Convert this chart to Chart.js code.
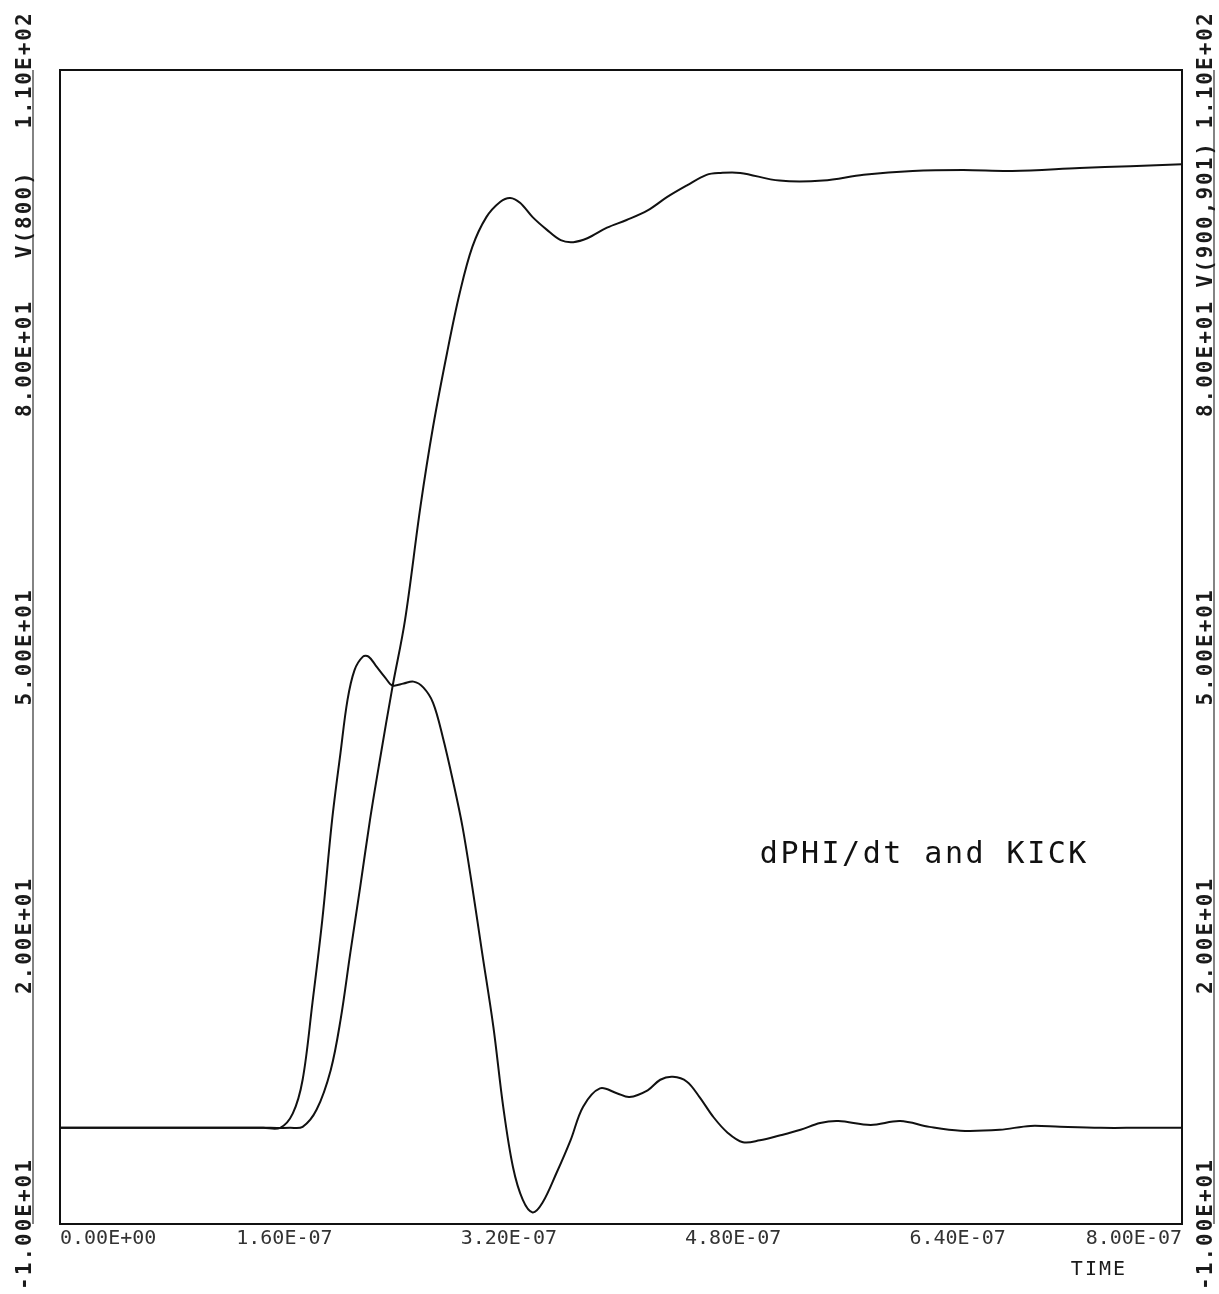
<!DOCTYPE html>
<html>
<head>
<meta charset="utf-8">
<script src="https://cdn.jsdelivr.net/npm/chart.js@4/dist/chart.umd.min.js"></script>
<style>
  html, body { margin: 0; padding: 0; background: #fff; }
  #wrap { width: 1219px; height: 1294px; position: relative; }
</style>
</head>
<body>
<div id="wrap"><canvas id="plot"></canvas></div>
<script>
// time in ns, values in plot units
const kickTime = [0, 60, 120, 150, 164, 173, 183, 193, 200, 207, 214, 221, 228, 237, 246, 257, 266, 276, 285, 294, 304, 314, 321, 328, 337, 347, 357, 366, 376, 390, 404, 419, 433, 447, 461, 471, 485, 513, 544, 573, 608, 644, 679, 727, 763, 800];
const kickValue = [0, 0, 0, 0, 0, 0.1, 1.9, 6.0, 11.2, 18.2, 25.0, 32.0, 38.2, 45.8, 52.8, 64.6, 72.9, 80.6, 86.8, 91.6, 94.7, 96.3, 96.7, 96.2, 94.7, 93.4, 92.3, 92.1, 92.5, 93.6, 94.4, 95.4, 96.8, 98.0, 99.1, 99.3, 99.3, 98.5, 98.5, 99.1, 99.5, 99.6, 99.5, 99.8, 100.0, 100.2];

const dphiTime = [0, 60, 120, 145, 157, 166, 173, 180, 187, 194, 200, 205, 210, 216, 220, 225, 232, 237, 245, 252, 259, 266, 273, 280, 287, 294, 301, 309, 316, 323, 330, 337, 344, 354, 364, 373, 385, 397, 406, 419, 428, 437, 447, 456, 466, 476, 487, 499, 513, 528, 542, 555, 578, 599, 620, 642, 670, 692, 713, 742, 770, 800];
const dphiValue = [0, 0, 0, 0, 0, 1.5, 5.0, 13.0, 21.6, 32.0, 39.0, 44.5, 47.6, 49.0, 49.0, 48.1, 46.8, 46.0, 46.2, 46.4, 45.8, 44.2, 40.6, 36.2, 31.3, 25.0, 18.2, 10.5, 2.2, -4.1, -7.5, -8.8, -7.8, -4.7, -1.3, 2.2, 4.1, 3.6, 3.2, 3.9, 5.0, 5.3, 4.8, 3.2, 1.1, -0.5, -1.5, -1.3, -0.8, -0.2, 0.5, 0.7, 0.3, 0.7, 0.1, -0.3, -0.2, 0.2, 0.1, 0, 0, 0];

const xTickLabels = ['0.00E+00', '1.60E-07', '3.20E-07', '4.80E-07', '6.40E-07', '8.00E-07'];
const yTickValues = [-10, 20, 50, 80, 110];
const yTickLabels = ['-1.00E+01', '2.00E+01', '5.00E+01', '8.00E+01', '1.10E+02'];
const leftTitle = 'V(800)';
const rightTitle = 'V(900,901)';
const xTitle = 'TIME';
const note = 'dPHI/dt and KICK';

const MONO = '"DejaVu Sans Mono", "Liberation Mono", monospace';

function toPoints(ts, vs) {
	return ts.map((t, i) => ({ x: t, y: vs[i] }));
}

const plotterDecor = {
	id: 'plotterDecor',
	afterDraw(chart) {
		const { ctx, chartArea: a } = chart;
		const x = chart.scales.x;
		const y = chart.scales.y;
		ctx.save();

		// frame round the plot
		ctx.strokeStyle = '#111';
		ctx.lineWidth = 2;
		ctx.strokeRect(a.left, a.top, a.right - a.left, a.bottom - a.top);

		// rules beside the rotated labels
		ctx.lineWidth = 1.2;
		ctx.strokeStyle = '#333';
		ctx.beginPath();
		ctx.moveTo(33, a.top);
		ctx.lineTo(33, a.bottom);
		ctx.moveTo(1214, a.top);
		ctx.lineTo(1214, a.bottom);
		ctx.stroke();

		// y labels, both sides, reading bottom to top
		ctx.font = 'bold 21px ' + MONO;
		ctx.letterSpacing = '2px';
		ctx.fillStyle = '#1a1a1a';
		ctx.textAlign = 'center';
		ctx.textBaseline = 'alphabetic';
		const side = (px, py, txt) => {
			ctx.save();
			ctx.translate(px, py);
			ctx.rotate(-Math.PI / 2);
			ctx.fillText(txt, 0, 0);
			ctx.restore();
		};
		yTickValues.forEach((v, i) => {
			const py = y.getPixelForValue(v);
			side(31, py, yTickLabels[i]);
			side(1212, py, yTickLabels[i]);
		});
		side(31, y.getPixelForValue(95), leftTitle);
		side(1212, y.getPixelForValue(95), rightTitle);

		// axis title
		ctx.font = '20px ' + MONO;
		ctx.textAlign = 'right';
		ctx.textBaseline = 'middle';
		ctx.fillText(xTitle, a.right - 55, a.bottom + 46);

		// note inside the plot
		ctx.font = '30px ' + MONO;
		ctx.letterSpacing = '2.5px';
		ctx.textAlign = 'left';
		ctx.fillStyle = '#111';
		ctx.fillText(note, x.getPixelForValue(499), y.getPixelForValue(28.4));

		ctx.restore();
	},
};

new Chart(document.getElementById('plot'), {
	type: 'line',
	data: {
		datasets: [
			{
				label: 'KICK',
				data: toPoints(kickTime, kickValue),
				borderColor: '#111',
				borderWidth: 2,
				pointRadius: 0,
				fill: false,
				tension: 0.35,
			},
			{
				label: 'dPHI/dt',
				data: toPoints(dphiTime, dphiValue),
				borderColor: '#111',
				borderWidth: 2,
				pointRadius: 0,
				fill: false,
				tension: 0.35,
			},
		],
	},
	options: {
		responsive: true,
		maintainAspectRatio: false,
		animation: false,
		events: [],
		layout: { padding: { left: 60, right: 37, top: 70, bottom: 40 } },
		plugins: {
			legend: { display: false },
			tooltip: { enabled: false },
		},
		scales: {
			x: {
				type: 'linear',
				min: 0,
				max: 800,
				grid: { display: false, drawTicks: false },
				border: { display: false },
				ticks: {
					stepSize: 160,
					align: 'inner',
					padding: 3,
					maxRotation: 0,
					color: '#333',
					font: { family: MONO, size: 20 },
					callback: (v, i) => xTickLabels[i],
				},
			},
			y: {
				display: false,
				min: -10,
				max: 110,
			},
		},
	},
	plugins: [plotterDecor],
});
</script>
</body>
</html>
